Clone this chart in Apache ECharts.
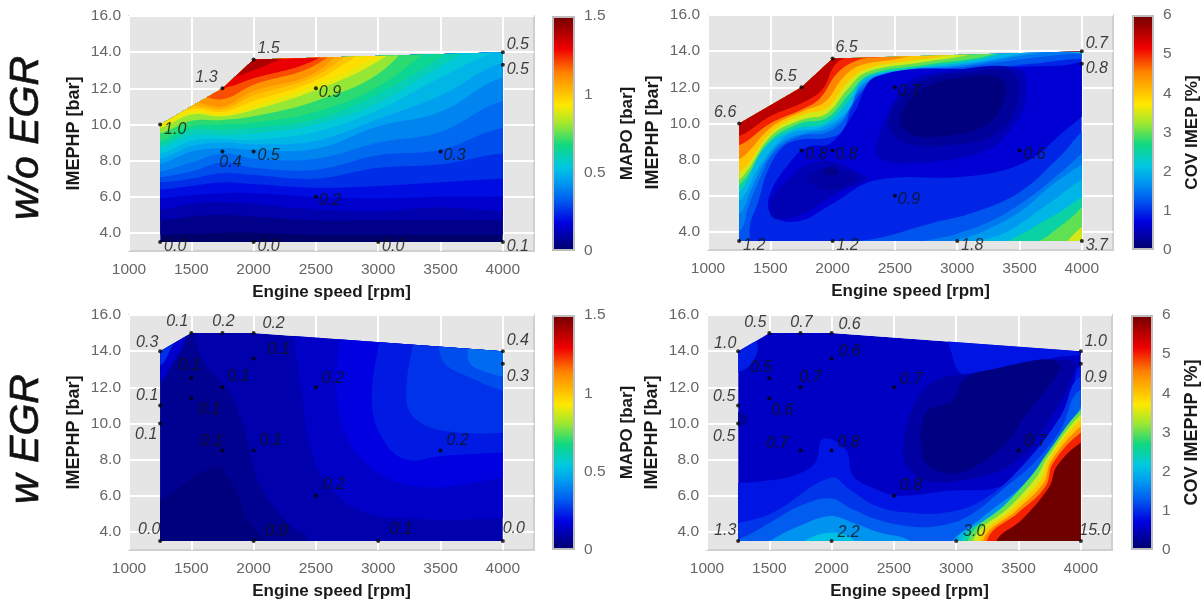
<!DOCTYPE html>
<html>
<head>
<meta charset="utf-8">
<style>html,body{margin:0;padding:0;background:#fff}#chart{width:1202px;height:602px;filter:blur(.5px)}</style>
<script src="https://cdn.jsdelivr.net/npm/echarts@6/dist/echarts.min.js"></script>
</head>
<body>
<div id="chart"></div>
<script>
// tick labels
const speedTicks = [1000, 1500, 2000, 2500, 3000, 3500, 4000];
const imepTicks = [4, 6, 8, 10, 12, 14, 16];

// colour scale
const jetStops = [[0, '#00006a'], [.12, '#0000e0'], [.22, '#0060f0'], [.30, '#00a0f0'], [.36, '#00c8e0'], [.45, '#10d880'],
  [.54, '#a0e830'], [.62, '#ffe800'], [.76, '#ff8000'], [.86, '#f00000'], [1, '#700000']];

// operating range outlines
const outlineOff = [[1250, 10], [1750, 12], [2000, 13.6], [4000, 14], [4000, 3.5], [1250, 3.5]];
const outlineOn = [[1250, 14], [1500, 15], [2000, 15], [4000, 14], [4000, 3.5], [1250, 3.5]];

// measured points
const pointsOff = [[1250, 10], [1750, 12], [2000, 13.6], [4000, 14], [4000, 13.3], [2500, 12], [1750, 8.5], [2000, 8.5], [3500, 8.5], [2500, 6], [1250, 3.5], [2000, 3.5], [3000, 3.5], [4000, 3.5]];
const pointsOn = [[1250, 14], [1500, 15], [1750, 15], [2000, 15], [2000, 13.6], [1500, 12.5], [1750, 12], [2500, 12], [4000, 14], [4000, 13.3], [1500, 11.4], [1250, 11], [1250, 10], [1750, 8.5], [2000, 8.5], [3500, 8.5], [2500, 6], [1250, 3.5], [2000, 3.5], [3000, 3.5], [4000, 3.5]];
const mapoOffText = ['1.0', '1.3', '1.5', '0.5', '0.5', '0.9', '0.4', '0.5', '0.3', '0.2', '0.0', '0.0', '0.0', '0.1'];
const covOffText = ['6.6', '6.5', '6.5', '0.7', '0.8', '0.7', '0.8', '0.8', '0.6', '0.9', '1.2', '1.2', '1.8', '3.7'];
const mapoOnText = ['0.3', '0.1', '0.2', '0.2', '0.1', '0.1', '0.1', '0.2', '0.4', '0.3', '0.1', '0.1', '0.1', '0.1', '0.1', '0.2', '0.2', '0.0', '0.0', '0.1', '0.0'];
const covOnText = ['1.0', '0.5', '0.7', '0.6', '0.6', '0.5', '0.7', '0.7', '1.0', '0.9', '0.6', '0.5', '0.5', '0.7', '0.8', '0.7', '0.8', '1.3', '2.2', '3.0', '15.0'];

// label offsets in px from each point
const mapoOffShift = [[15, 5], [-16, -11], [15, -11], [15, -8], [15, 5], [14, 4], [8, 11], [15, 4], [14, 4], [14, 4], [15, 5], [15, 5], [15, 5], [15, 5]];
const covOffShift = [[-14, -11], [-16, -11], [14, -11], [15, -8], [15, 5], [14, 4], [15, 4], [14, 4], [15, 4], [14, 4], [15, 5], [15, 5], [15, 5], [15, 5]];
const mapoOnShift = [[-13, -9], [-14, -12], [1, -12], [20, -10], [25, -9], [-2, -13], [16, -11], [17, -9], [15, -11], [15, 13], [18, 11], [-13, -10], [-14, 11], [-11, -9], [17, -10], [17, -10], [18, -11], [-11, -11], [23, -9], [23, -11], [11, -12]];
const covOnShift = [[-13, -8], [-14, -11], [1, -11], [18, -9], [18, -7], [-8, -11], [10, -10], [17, -8], [15, -10], [15, 14], [13, 12], [-14, -9], [-14, 13], [-23, -7], [17, -8], [17, -9], [17, -10], [-13, -10], [17, -8], [18, -9], [14, -10]];

// w/o EGR MAPO: y of each contour level at these speeds
const mapoOffKnots = [1250, 1500, 1750, 2000, 2500, 3000, 3500, 4000];
const mapoOffLevels = [.05, .1, .15, .2, .25, .3, .35, .4, .45, .5, .55, .6, .65, .7, .8, .9, .95, 1, 1.05, 1.1, 1.2, 1.3, 1.4, 1.5];
const mapoOffRows = [
  [3.9, 3.95, 4, 4, 3.9, 3.9, 3.9, 3.9],
  [4.7, 4.9, 5, 4.9, 4.7, 4.7, 4.7, 4.7],
  [5.3, 5.6, 5.7, 5.6, 5.3, 5.2, 5.4, 5.2],
  [5.9, 6.1, 6.2, 6.2, 6, 5.9, 6, 6],
  [6.4, 6.6, 6.8, 6.7, 6.5, 6.6, 6.8, 7],
  [6.8, 7, 7.3, 7.2, 7, 7.6, 7.8, 8.4],
  [7.1, 7.4, 7.9, 7.6, 7.5, 8.3, 8.6, 9.8],
  [7.4, 7.9, 8.4, 8.1, 8.1, 9, 9.6, 11.3],
  [7.8, 8.5, 8.7, 8.6, 8.65, 9.9, 10.7, 12.6],
  [8.1, 8.8, 9, 8.9, 9.1, 10.3, 11.6, 13.4],
  [8.4, 9.1, 9.2, 9.15, 9.6, 10.8, 12.6, 14.1],
  [8.7, 9.4, 9.4, 9.5, 10, 11.2, 13.2, 15],
  [8.9, 9.7, 9.7, 9.8, 10.3, 11.7, 13.7, 16],
  [9.1, 9.9, 10, 10.1, 10.7, 12.1, 14.5, 16],
  [9.5, 10.2, 10.25, 10.45, 11.3, 12.8, 16, 16],
  [9.8, 10.55, 10.45, 10.8, 11.9, 13.5, 16, 16],
  [10, 10.7, 10.55, 11, 12.2, 13.8, 16, 16],
  [10.1, 10.85, 10.7, 11.3, 12.45, 14.5, 16, 16],
  [10.3, 11, 10.85, 11.6, 12.7, 15, 16, 16],
  [10.5, 11.2, 11, 11.85, 12.9, 16, 16, 16],
  [10.7, 11.6, 11.4, 12.2, 13.3, 16, 16, 16],
  [11, 12, 12, 12.55, 13.6, 16, 16, 16],
  [11.5, 12.5, 12.5, 13, 14.5, 16, 16, 16],
  [12, 13, 13.1, 13.65, 15, 16, 16, 16]
];

// w/o EGR COV: contour paths, [level, kind, path]
const covOffBands = [
  [1.25, 'up', [[1310, 3], [1340, 4.5], [1400, 5.6], [1480, 7.4], [1600, 8.7], [1738, 9.1], [1954, 9.2], [2080, 9.6], [2160, 11], [2300, 12.1], [2500, 12.5], [3000, 12.9], [3600, 13.3], [4000, 13.6]]],
  [1.5, 'up', [[1250, 4], [1330, 5.5], [1420, 7], [1530, 8.4], [1738, 9.3], [1954, 9.5], [2090, 10.2], [2180, 11.5], [2400, 12.6], [3000, 13.1], [3990, 13.9]]],
  [1.75, 'up', [[1250, 5], [1350, 6.4], [1470, 8], [1600, 9], [1800, 9.5], [1954, 9.7], [2110, 10.5], [2210, 11.9], [2420, 12.75], [3030, 13.2], [3800, 14]]],
  [2, 'up', [[1250, 5.7], [1400, 7.5], [1560, 8.9], [1676, 9.5], [1923, 9.8], [2130, 10.8], [2231, 12.2], [2447, 12.85], [3065, 13.3], [3700, 14]]],
  [2.5, 'up', [[1250, 6.2], [1450, 8.6], [1700, 9.7], [1940, 10], [2135, 11.3], [2260, 12.5], [2600, 13], [3140, 13.5], [3700, 14.4]]],
  [3, 'up', [[1253, 6.6], [1490, 9], [1737, 10], [1954, 10.3], [2139, 11.67], [2293, 12.7], [2756, 13.25], [3219, 13.7], [3600, 14.5]]],
  [3.5, 'up', [[1253, 6.9], [1505, 9.3], [1750, 10.2], [1954, 10.55], [2120, 11.9], [2275, 12.85], [2680, 13.35], [3060, 13.75], [3500, 14.5]]],
  [4, 'up', [[1253, 7.3], [1521, 9.6], [1768, 10.5], [1954, 10.85], [2108, 12.2], [2262, 13], [2600, 13.45], [2910, 13.75], [3300, 14.5]]],
  [4.5, 'up', [[1250, 8], [1510, 9.8], [1770, 10.7], [1940, 11.2], [2080, 12.5], [2220, 13.2], [2500, 13.55], [3100, 14.4]]],
  [5, 'up', [[1250, 8.8], [1500, 10], [1760, 10.8], [1900, 11.4], [2040, 12.8], [2200, 13.5], [2400, 13.7], [2800, 14.4]]],
  [5.5, 'up', [[1250, 9.3], [1500, 10.4], [1775, 11.2], [1920, 11.9], [2015, 13.2], [2110, 13.65], [2500, 14.4]]],
  [1.25, 'right', [[1950, 3], [2400, 3.7], [2800, 4.5], [3100, 5], [3500, 6.2], [3800, 8], [4100, 10]]],
  [1.5, 'right', [[2600, 3], [3000, 3.9], [3300, 4.7], [3600, 6], [3850, 7.4], [4100, 8.7]]],
  [1.75, 'right', [[2850, 3], [3200, 4], [3500, 5.1], [3800, 6.8], [4100, 8]]],
  [2, 'right', [[3050, 3], [3400, 4], [3700, 5.4], [4100, 7.2]]],
  [2.5, 'right', [[3350, 3], [3600, 4.2], [3800, 5], [4100, 6.2]]],
  [3, 'right', [[3600, 3], [3750, 3.9], [3900, 4.7], [4100, 5.8]]],
  [3.5, 'right', [[3850, 3], [4000, 4.3], [4100, 4.8]]],
  [.65, 'low', [[2170, 10.56], [2355, 12.6], [3219, 13.05], [3836, 13.2], [4100, 13.3], [4100, 11.3], [3836, 9.45], [3527, 7.8], [3065, 7.06], [2355, 6.87], [1984, 5.5], [1737, 4.6], [1521, 4.85], [1490, 5.95], [1676, 8], [1800, 8.7], [1984, 8.9]]],
  [.45, 'low', [[2400, 9.8], [2600, 12.2], [2850, 12.8], [3500, 13], [3550, 11.3], [3420, 9.6], [3230, 8.5], [2820, 7.9], [2370, 8.1]]],
  [.3, 'low', [[2450, 10.2], [2680, 12.2], [3100, 12.85], [3450, 12.8], [3480, 11.2], [3330, 9.5], [2950, 8.8], [2560, 9]]],
  [.12, 'low', [[2540, 10.3], [2720, 11.9], [3100, 12.6], [3360, 12.4], [3370, 11.2], [3230, 9.9], [2910, 9.3], [2630, 9.4]]],
  [.45, 'low', [[1500, 5], [1520, 6], [1660, 7], [1790, 7.7], [2000, 7.9], [2200, 7.3], [2270, 6.9], [2050, 6.2], [1760, 5], [1560, 4.7]]],
  [.35, 'low', [[1800, 6.88], [1892, 7.43], [2200, 7.06], [1984, 6.3]]],
  [.2, 'low', [[1923, 7.43], [2015, 7.6], [2046, 7.25], [1954, 7.15]]]
];

// w EGR MAPO
const mapoOnBands = [
  [.06, 'low', [[2425, 3], [2425, 3.7], [2300, 4.3], [2055, 6.5], [1932, 9.5], [1810, 11.7], [1625, 13.15], [1532, 14.6], [1500, 16], [1100, 16], [1100, 3]]],
  [.03, 'low', [[1100, 5.8], [1249, 5.8], [1686, 7.55], [1840, 6.5], [1932, 4.9], [2117, 3.3], [2117, 3], [1100, 3]]],
  [.14, 'topright', [[2301, 16], [2393, 11.3], [2455, 8.6], [2609, 6.5], [2886, 5.07], [3348, 4.7], [3809, 4.7], [4100, 4.8]]],
  [.18, 'topright', [[2700, 16], [2670, 11.3], [2794, 8.7], [3040, 7.1], [3348, 6.5], [3656, 6.6], [4100, 7.1]]],
  [.22, 'topright', [[3040, 16], [2948, 11.3], [3040, 9.1], [3225, 8], [3502, 8.2], [4100, 8.4]]],
  [.26, 'topright', [[3317, 16], [3225, 11.3], [3348, 10], [3656, 9.5], [4100, 9.5]]],
  [.3, 'low', [[3563, 16], [3502, 13.7], [3717, 12.6], [4100, 12], [4100, 16]]],
  [.35, 'low', [[3800, 16], [3717, 13.7], [3800, 13], [4100, 12.8], [4100, 16]]],
  [.15, 'low', [[1100, 12.3], [1250, 12.3], [1340, 13.2], [1450, 14.6], [1450, 16], [1100, 16]]],
  [.25, 'low', [[1100, 13.2], [1250, 13.2], [1340, 14.2], [1400, 15], [1400, 16], [1100, 16]]]
];

// w EGR COV
const covOnBands = [
  [.9, 'low', [[1100, 14.5], [1390, 14.5], [1375, 13.5], [1250, 12.8], [1100, 12.5]]],
  [.85, 'low', [[2960, 16], [2970, 13.7], [3070, 12.7], [3530, 13.3], [3840, 13.7], [4100, 14.1], [4100, 16]]],
  [.85, 'bottom', [[1250, 6.7], [1430, 6.8], [1682, 7.09], [1867, 7.8], [1931, 9.15], [2113, 8.56], [2175, 7.09], [2360, 6.35], [2545, 6], [2915, 6.26], [3376, 6.54], [3683, 8], [3930, 11.3], [4000, 13.2]]],
  [1.05, 'bottom', [[1250, 4.5], [1528, 5.07], [1990, 7], [2144, 6.35], [2360, 5.43], [2606, 5.07], [2915, 5.07], [3221, 5.8], [3530, 7.64], [3838, 10.4], [4000, 12.6]]],
  [1.3, 'bottom', [[1250, 3.6], [1528, 4.6], [1743, 5.43], [1990, 5.86], [2144, 5.34], [2360, 4.7], [2606, 4.33], [2852, 4.33], [3098, 4.88], [3406, 6.54], [3622, 7.8], [3838, 9.66], [4000, 11.87]]],
  [1.7, 'low', [[1400, 3], [1528, 3.6], [1743, 4.33], [1990, 4.88], [2175, 4.5], [2390, 3.96], [2606, 3.6], [2700, 3]]],
  [1.7, 'right', [[2915, 3], [3190, 4.7], [3498, 6.35], [3683, 7.64], [3900, 9.66], [4100, 11.7]]],
  [2.1, 'low', [[1700, 3], [1805, 3.6], [1990, 3.96], [2144, 3.7], [2236, 3]]],
  [2, 'right', [[3005, 3.6], [3250, 4.7], [3530, 6.35], [3715, 7.64], [3930, 9.85], [4100, 11.3]]],
  [2.5, 'right', [[3050, 3.6], [3330, 5.1], [3590, 6.8], [3715, 7.9], [3965, 10.4], [4100, 11.1]]],
  [3, 'right', [[3098, 3.6], [3406, 5.6], [3622, 7.27], [3715, 8.2], [4000, 10.76], [4100, 10.9]]],
  [3.5, 'right', [[3140, 3.6], [3437, 5.45], [3650, 7.1], [3730, 8.1], [4000, 10.5], [4100, 10.6]]],
  [4, 'right', [[3190, 3.6], [3468, 5.34], [3683, 6.9], [3746, 8], [4000, 10.2], [4100, 10.3]]],
  [4.5, 'right', [[3220, 3.6], [3485, 5.2], [3700, 6.7], [3760, 7.9], [4000, 9.85], [4100, 10]]],
  [5, 'right', [[3250, 3.6], [3500, 5.07], [3715, 6.5], [3776, 7.8], [4000, 9.5], [4100, 9.6]]],
  [6, 'right', [[3315, 3.4], [3530, 4.7], [3746, 6.5], [3808, 7.64], [4000, 8.93], [4100, 9]]],
  [.35, 'low', [[2822, 12.33], [3100, 12.75], [3868, 13.52], [3961, 13.15], [3683, 9.48], [3498, 8], [3221, 7.09], [2760, 6.8], [2606, 7.64], [2575, 8.74], [2668, 11.13]]],
  [.15, 'low', [[3823, 13.34], [3530, 10.2], [3375, 8.74], [3067, 7.36], [2852, 7.36], [2730, 8.2], [2760, 10.6], [2975, 11.3], [3052, 12.33], [3221, 12.9]]],
  [.3, 'low', [[1200, 10.6], [1327, 10.4], [1296, 9.94], [1200, 9.9]]]
];

function hex(c) {
  return [1, 3, 5].map(i => parseInt(c.substr(i, 2), 16));
}
function jet(t) {
  t = Math.max(0, Math.min(1, t));
  for (let i = 1; i < jetStops.length; i++) {
    if (t <= jetStops[i][0]) {
      const a = jetStops[i - 1], b = jetStops[i];
      const k = (t - a[0]) / (b[0] - a[0]);
      const ca = hex(a[1]), cb = hex(b[1]);
      return 'rgb(' + ca.map((v, j) => Math.round(v + (cb[j] - v) * k)).join(',') + ')';
    }
  }
  return jetStops[jetStops.length - 1][1];
}

function closeBand(kind, path) {
  const first = path[0], last = path[path.length - 1];
  if (kind === 'up') return [[1100, first[1]], ...path, [4400, last[1]], [4400, 18], [1100, 18]];
  if (kind === 'bottom') return [[1100, first[1]], ...path, [4400, last[1]], [4400, 1], [1100, 1]];
  if (kind === 'right') return [...path, [4400, last[1]], [4400, 1], [first[0], 1]];
  if (kind === 'topright') return [...path, [4400, last[1]], [4400, 18], [first[0], 18]];
  return path;
}
function rowBands(levels, rows, knots) {
  return levels.map((level, i) => [level, 'up', rows[i].map((y, k) => [knots[k], y])]);
}

const panels = [
  {left: 129, top: 16, right: 534, barLeft: 552, base: 0, max: 1.5, step: .5, outline: outlineOff, points: pointsOff, text: mapoOffText, shift: mapoOffShift,
    bands: rowBands(mapoOffLevels, mapoOffRows, mapoOffKnots), name: 'MAPO [bar]', nameSize: 17, nameGap: 44},
  {left: 708, top: 15, right: 1113, barLeft: 1132, base: .95, max: 6, step: 1, outline: outlineOff, points: pointsOff, text: covOffText, shift: covOffShift,
    bands: covOffBands, name: 'COV IMEP [%]', nameSize: 17, nameGap: 30},
  {left: 129, top: 315, right: 534, barLeft: 552, base: .1, max: 1.5, step: .5, outline: outlineOn, points: pointsOn, text: mapoOnText, shift: mapoOnShift,
    bands: mapoOnBands, name: 'MAPO [bar]', nameSize: 17, nameGap: 44},
  {left: 707, top: 315, right: 1112, barLeft: 1131, base: .55, max: 6, step: 1, outline: outlineOn, points: pointsOn, text: covOnText, shift: covOnShift,
    bands: covOnBands, name: 'COV IMEPHP [%]', nameSize: 18, nameGap: 30}
];

const fontFamily = '"Liberation Sans", Arial, sans-serif';
const grid = [], xAxis = [], yAxis = [], series = [];

panels.forEach((p) => {
  const idx = grid.length;
  grid.push({left: p.left, top: p.top, width: p.right - p.left, height: 235, show: true, backgroundColor: '#e5e5e5', borderColor: '#cfcfcf', borderWidth: 2});
  xAxis.push({
    gridIndex: idx, type: 'value', min: 1000, max: 4250, interval: 500,
    name: 'Engine speed [rpm]', nameLocation: 'middle', nameGap: 33,
    nameTextStyle: {color: '#1a1a1a', fontSize: 17, fontWeight: 'bold', fontFamily},
    axisLine: {show: false}, axisTick: {show: false, customValues: speedTicks},
    axisLabel: {color: '#666', fontSize: 15.5, fontFamily, margin: 11, customValues: speedTicks, formatter: v => String(v)},
    splitLine: {show: true, lineStyle: {color: '#fff', width: 2}}
  });
  yAxis.push({
    gridIndex: idx, type: 'value', min: 3, max: 16,
    name: 'IMEPHP [bar]', nameLocation: 'middle', nameGap: 46,
    nameTextStyle: {color: '#1a1a1a', fontSize: 18, fontWeight: 'bold', fontFamily},
    axisLine: {show: false}, axisTick: {show: false, customValues: imepTicks},
    axisLabel: {color: '#666', fontSize: 15.5, fontFamily, margin: 8, customValues: imepTicks, formatter: v => v.toFixed(1)},
    splitLine: {show: true, lineStyle: {color: '#fff', width: 2}}
  });
  const layers = [{level: p.base, shape: p.outline}].concat(p.bands.map(b => ({level: b[0], shape: closeBand(b[1], b[2])})));
  series.push({
    type: 'custom', xAxisIndex: idx, yAxisIndex: idx, coordinateSystem: 'cartesian2d', silent: true, clip: false, z: 2,
    data: layers.map((l, i) => [i]),
    encode: {x: -1, y: -1},
    animation: false,
    renderItem: (params, api) => {
      const l = layers[params.dataIndex];
      return {
        type: 'polygon',
        shape: {points: l.shape.map(pt => api.coord(pt)), smooth: params.dataIndex === 0 ? 0 : .4},
        style: {fill: jet(l.level / p.max), stroke: null},
        clipPath: {type: 'polygon', shape: {points: p.outline.map(pt => api.coord(pt))}}
      };
    }
  });
  series.push({
    type: 'scatter', xAxisIndex: idx, yAxisIndex: idx, symbolSize: 4, z: 3, silent: true, animation: false,
    itemStyle: {color: '#000'},
    data: p.points.map((pt, i) => ({
      value: pt,
      label: {show: true, position: 'inside', formatter: p.text[i], offset: p.shift[i], color: '#111', fontSize: 16, fontStyle: 'italic', fontFamily}
    }))
  });

  // colour bar
  const barIdx = grid.length;
  grid.push({left: p.barLeft, top: p.top, width: 23, height: 235, show: false});
  xAxis.push({gridIndex: barIdx, type: 'category', data: [''], show: false});
  yAxis.push({
    gridIndex: barIdx, type: 'value', min: 0, max: p.max, interval: p.step, position: 'right',
    name: p.name, nameLocation: 'middle', nameGap: p.nameGap,
    nameTextStyle: {color: '#1a1a1a', fontSize: p.nameSize, fontWeight: 'bold', fontFamily},
    axisLine: {show: false}, axisTick: {show: false}, splitLine: {show: false},
    axisLabel: {color: '#666', fontSize: 15.5, fontFamily, margin: 9}
  });
  series.push({
    type: 'bar', xAxisIndex: barIdx, yAxisIndex: barIdx, barWidth: '100%', silent: true, animation: false,
    data: [p.max],
    itemStyle: {
      borderColor: '#bdbdbd', borderWidth: 2,
      color: new echarts.graphic.LinearGradient(0, 1, 0, 0, jetStops.map(s => ({offset: s[0], color: s[1]})))
    }
  });
});

const chart = echarts.init(document.getElementById('chart'), null, {renderer: 'canvas'});
chart.setOption({
  animation: false,
  backgroundColor: '#fff',
  grid, xAxis, yAxis, series,
  graphic: [
    {type: 'text', x: 27, y: 138, rotation: Math.PI / 2, style: {text: 'w/o EGR', fill: '#111', stroke: '#111', lineWidth: .7, font: 'italic 41px ' + fontFamily, textAlign: 'center', textVerticalAlign: 'middle'}},
    {type: 'text', x: 27, y: 439, rotation: Math.PI / 2, style: {text: 'w EGR', fill: '#111', stroke: '#111', lineWidth: .7, font: 'italic 41px ' + fontFamily, textAlign: 'center', textVerticalAlign: 'middle'}}
  ]
});
</script>
</body>
</html>
